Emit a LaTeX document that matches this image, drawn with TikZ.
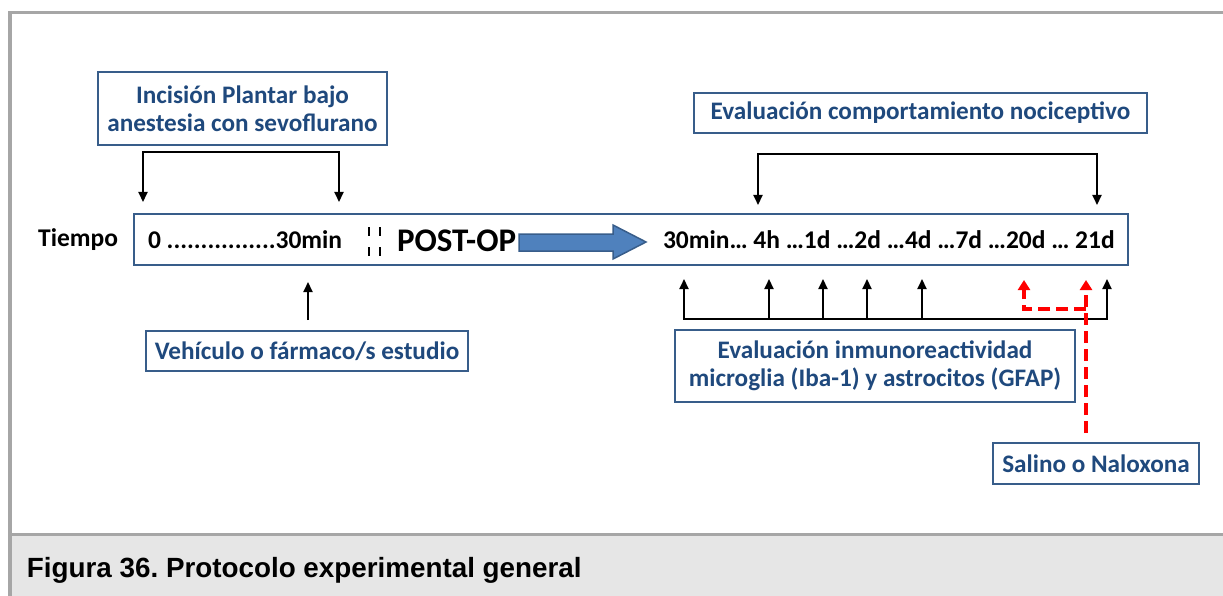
\documentclass[tikz,border=0pt]{standalone}
\usepackage{fontspec}
\setmainfont{Carlito}
\newfontfamily\capfont{Liberation Sans}
\usetikzlibrary{arrows.meta, positioning, calc}
\definecolor{cnavy}{HTML}{1F497D}
\definecolor{cedge}{HTML}{385D8A}
\definecolor{cfill}{HTML}{4F81BD}
\definecolor{cframe}{HTML}{A6A6A6}
\definecolor{cband}{HTML}{E6E6E6}
\frenchspacing
\tikzset{
  every picture/.style={line width=2pt},
  box/.style={draw=cedge, fill=white, line width=1.6pt, text=cnavy, font=\fontsize{25.2}{28}\selectfont\bfseries, align=center, inner sep=0pt},
  arrow/.style={-{Triangle[length=10pt, width=9pt]}, draw=black, line width=2pt},
  bracket/.style={{Triangle[length=10pt, width=9pt]}-{Triangle[length=10pt, width=9pt]}, draw=black, line width=2pt, line join=miter},
  salarrow/.style={-{Triangle[length=10pt, width=12pt]}, draw=red, line width=4pt, dash pattern=on 12pt off 6pt},
  tick/.style={font=\fontsize{25.5}{28}\selectfont\bfseries, inner sep=0pt, anchor=west},
}
\begin{document}
\begin{tikzpicture}[x=1pt, y=-1pt]
  \useasboundingbox (0,0) rectangle (1223,596);
  % frame and caption band
  \fill[cband] (12,536) rectangle (1223,596);
  \draw[cframe, line width=3.5pt] (10,596) -- (10,12.75) -- (1223,12.75);
  \draw[cframe, line width=3.5pt] (11.75,534.5) -- (1223,534.5);
  \node[anchor=west, font=\capfont\bfseries\fontsize{27.8}{32}\selectfont, inner sep=0pt] (cap) at (26,570) {Figura 36. Protocolo experimental general};
  % time line
  \node[draw=cedge, line width=2pt, minimum width=994pt, minimum height=51pt] (tl) at (630.5,239.5) {};
  \node[tick, anchor=east] (tiempo) at (119,240) {Tiempo};
  \node[tick] (pre) at (147,240) {0 ................30min};
  \node[tick] (post) at (662,240) {30min… 4h …1d …2d …4d …7d …20d … 21d};
  \node[font=\fontsize{33}{36}\selectfont\bfseries, anchor=west, inner sep=0pt] (op) at (396,241) {POST-OP};
  \draw[draw=cedge, fill=cfill, line width=1.5pt] (519,234) -- (613,234) -- (613,225) -- (646,242) -- (613,259) -- (613,251) -- (519,251) -- cycle;
  \draw[line width=1.3pt] (369,227) -- (369,236) (369,247) -- (369,256) (380,227) -- (380,236) (380,247) -- (380,256);
  % boxes
  \node[box, minimum width=289pt, minimum height=73pt] (inc) at (242.5,108.5) {Incisión Plantar bajo\\anestesia con sevoflurano};
  \node[box, minimum width=453pt, minimum height=40pt] (noci) at (920.5,113) {Evaluación comportamiento nociceptivo};
  \node[box, minimum width=322pt, minimum height=40pt] (veh) at (307,351) {Vehículo o fármaco/s estudio};
  \node[box, minimum width=400pt, minimum height=72pt] (inmu) at (875,366) {Evaluación inmunoreactividad\\microglia (Iba-1) y astrocitos (GFAP)};
  \node[box, minimum width=206pt, minimum height=41pt] (sal) at (1096,463.5) {Salino o Naloxona};
  % arrows above
  \coordinate (i0) at (143,202);
  \coordinate (i1) at (339,202);
  \draw[bracket] (i0) -- (143,152) -- (339,152) -- (i1);
  \coordinate (n0) at (758,205);
  \coordinate (n1) at (1097,205);
  \draw[bracket] (n0) -- (758,154) -- (1097,154) -- (n1);
  % arrows below
  \coordinate (v0) at (308,282);
  \draw[arrow] ([yshift=10pt]veh.north -| v0) -- (v0);
  \coordinate (hb) at (0,319);
  \foreach \x [count=\k] in {684,769,823,867,922,1107}
    \coordinate (u\k) at (\x,279);
  \draw[bracket] (u1) -- (u1 |- hb) -- (u6 |- hb) -- (u6);
  \foreach \k in {2,...,5}
    \draw[arrow] (u\k |- hb) -- (u\k);
  % saline / naloxone
  \coordinate (s0) at (1086,433);
  \coordinate (s1) at (1086,280);
  \coordinate (s2) at (1024,280);
  \coordinate (sj) at (1086,309);
  \draw[salarrow] (s0) -- (s1);
  \draw[salarrow] (sj) -| (s2);
\end{tikzpicture}
\end{document}
